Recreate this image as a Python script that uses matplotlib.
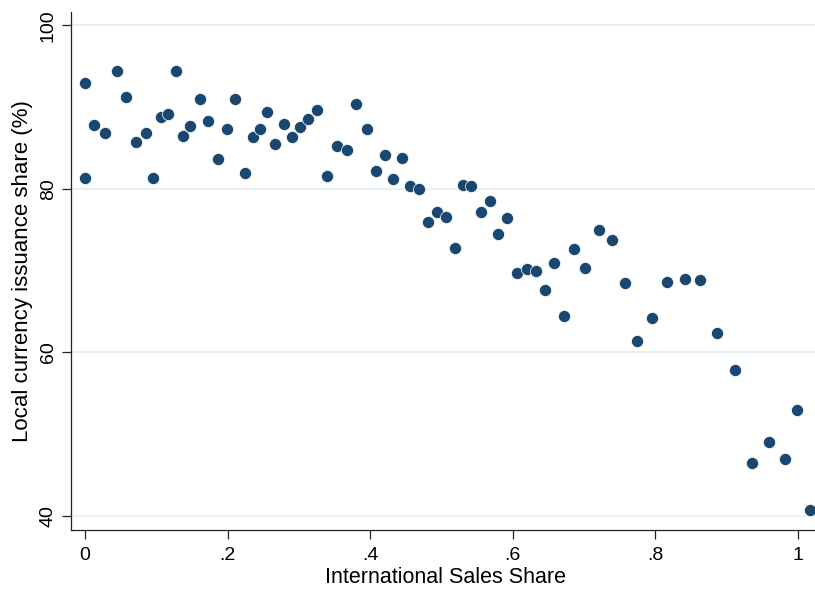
import matplotlib
matplotlib.use("Agg")
import matplotlib.pyplot as plt

# Data
intl_sales_share = [
    0.000, 0.000, 0.013, 0.028, 0.045, 0.057, 0.072, 0.086, 0.095, 0.106,
    0.116, 0.128, 0.138, 0.148, 0.161, 0.173, 0.186, 0.199, 0.211, 0.224,
    0.235, 0.245, 0.255, 0.267, 0.279, 0.290, 0.301, 0.313, 0.326, 0.339,
    0.353, 0.367, 0.380, 0.395, 0.408, 0.421, 0.432, 0.444, 0.456, 0.469,
    0.481, 0.494, 0.506, 0.519, 0.530, 0.542, 0.556, 0.568, 0.579, 0.592,
    0.606, 0.620, 0.632, 0.645, 0.658, 0.672, 0.686, 0.702, 0.721, 0.739,
    0.758, 0.774, 0.795, 0.816, 0.842, 0.862, 0.886, 0.912, 0.936, 0.959,
    0.982, 0.999, 1.017,
]
local_ccy_share = [
    93.0, 81.3, 87.8, 86.8, 94.4, 91.2, 85.7, 86.8, 81.3, 88.8,
    89.1, 94.4, 86.5, 87.7, 91.0, 88.3, 83.7, 87.3, 91.0, 82.0,
    86.3, 87.3, 89.4, 85.5, 87.9, 86.4, 87.6, 88.6, 89.7, 81.6,
    85.2, 84.7, 90.4, 87.3, 82.2, 84.1, 81.2, 83.8, 80.3, 80.0,
    76.0, 77.2, 76.6, 72.8, 80.5, 80.4, 77.2, 78.5, 74.5, 76.4,
    69.7, 70.2, 69.9, 67.6, 71.0, 64.4, 72.7, 70.3, 75.0, 73.8,
    68.5, 61.4, 64.2, 68.6, 69.0, 68.9, 62.4, 57.8, 46.5, 49.1,
    47.0, 53.0, 40.8,
]
x_ticks = [0, 0.2, 0.4, 0.6, 0.8, 1.0]
x_tick_labels = ["0", ".2", ".4", ".6", ".8", "1"]
y_ticks = [40, 60, 80, 100]
y_tick_labels = ["40", "60", "80", "100"]

plt.rcParams["font.family"] = ["Liberation Sans", "DejaVu Sans"]

fig = plt.figure(figsize=(8.15, 5.92), dpi=100)
W, H = 815, 592
left_px, right_px, top_px, bottom_px = 71.3, 815, 11.7, 529.5
ax = fig.add_axes([left_px / W, 1 - bottom_px / H,
                   (right_px - left_px) / W, (bottom_px - top_px) / H])

ax.scatter(intl_sales_share, local_ccy_share, s=76, color="#1A476F",
           edgecolor="white", linewidth=0.5, zorder=3, clip_on=False)

ax.set_xlim(-0.0192, 1.024)
ax.set_ylim(38.36, 101.66)

ax.set_xticks(x_ticks)
ax.set_xticklabels(x_tick_labels)
ax.set_yticks(y_ticks)
ax.set_yticklabels(y_tick_labels)

ax.grid(axis="y", color="#E4EEF2", linewidth=1.2, zorder=0)
ax.set_axisbelow(True)

for side in ["top", "right"]:
    ax.spines[side].set_visible(False)
for side in ["left", "bottom"]:
    ax.spines[side].set_color("#222222")
    ax.spines[side].set_linewidth(0.9)

ax.tick_params(axis="both", length=6.5, width=0.9, color="#222222",
               labelsize=14, labelcolor="black")
ax.tick_params(axis="x", pad=6)
ax.tick_params(axis="y", pad=4, labelrotation=90)
for lab in ax.get_yticklabels():
    lab.set_va("center")

ax.set_xlabel("International Sales Share", fontsize=15.5)
ax.set_ylabel("Local currency issuance share (%)", fontsize=16)
ax.xaxis.label.set_va("baseline")
ax.xaxis.set_label_coords(0.503, -(583 - bottom_px) / (bottom_px - top_px))
ax.yaxis.label.set_va("center")
ax.yaxis.set_label_coords((23 - left_px) / (right_px - left_px), 0.5)

fig.savefig("out.png", dpi=100)
